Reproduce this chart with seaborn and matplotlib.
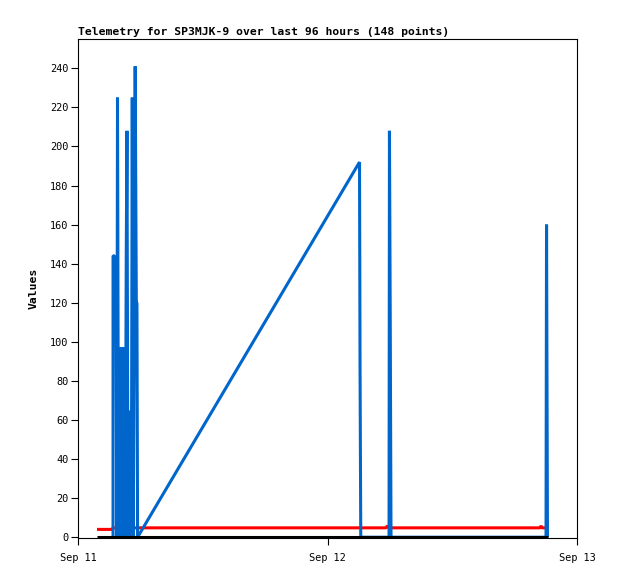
import pandas as pd
import matplotlib
matplotlib.use("Agg")
import matplotlib.pyplot as plt
import matplotlib.dates as mdates
import seaborn as sns

# hours after Sep 11 00:00 and values
start = pd.Timestamp("2023-09-11 00:00")

blue_hours = [3.37, 3.37, 3.51, 3.56, 3.66, 3.73, 3.80, 3.90, 3.99, 4.09,
              4.17, 4.23, 4.33, 4.41, 4.47, 4.55, 4.64, 4.71, 4.81, 4.91,
              5.05, 5.13, 5.22, 5.31, 5.41, 5.50, 5.61, 5.67, 5.73,
              27.08, 27.13, 27.20, 29.92, 29.96, 30.04, 30.11,
              45.02, 45.07, 45.16]
blue_values = [0, 144, 144, 113, 113, 0, 225, 0, 97, 23,
               97, 0, 97, 48, 97, 0, 143, 208, 0, 64,
               64, 0, 225, 0, 100, 241, 120, 120, 0,
               192, 88, 0, 0, 208, 104, 0,
               0, 160, 0]

red_hours = [1.83, 3.27, 3.37, 29.63, 29.77, 29.92, 44.44, 44.54, 44.63, 45.21]
red_values = [4.0, 4.0, 4.8, 4.8, 5.8, 4.8, 4.8, 5.8, 4.8, 4.8]

black_hours = [1.83, 45.21]
black_values = [0, 0]

yticks = list(range(0, 241, 20))

sns.set_style("ticks")
mono = "DejaVu Sans Mono"

fig = plt.figure(figsize=(6.18, 5.79), dpi=100)
ax = fig.add_axes([78 / 618, 1 - 538 / 579, 499 / 618, 499 / 579])


def to_df(hours, values):
    return pd.DataFrame({"time": start + pd.to_timedelta(hours, unit="h"),
                         "value": values})


line_kw = dict(linewidth=2.2, estimator=None, sort=False, ax=ax,
               solid_joinstyle="bevel", solid_capstyle="butt")
sns.lineplot(data=to_df(red_hours, red_values), x="time", y="value",
             color="#ff0000", **line_kw)
sns.lineplot(data=to_df(blue_hours, blue_values), x="time", y="value",
             color="#0066cc", **line_kw)
sns.lineplot(data=to_df(black_hours, black_values), x="time", y="value",
             color="black", **line_kw)

ax.set_xlim(start, start + pd.Timedelta(hours=48))
ax.set_ylim(-0.4, 255)
ax.set_yticks(yticks)
ax.xaxis.set_major_locator(mdates.DayLocator())
ax.xaxis.set_major_formatter(mdates.DateFormatter("%b %d"))

for s in ax.spines.values():
    s.set_color("black")
    s.set_linewidth(0.8)

ax.tick_params(axis="both", length=5, width=0.8, color="black",
               labelcolor="black", labelsize=7.4)
ax.tick_params(axis="x", pad=6)
ax.tick_params(axis="y", pad=2)
for lab in ax.get_xticklabels() + ax.get_yticklabels():
    lab.set_family(mono)

ax.set_xlabel("")
ax.set_ylabel("Values", family=mono, fontweight="bold", fontsize=8.2,
              labelpad=8, color="black")
ax.set_title("Telemetry for SP3MJK-9 over last 96 hours (148 points)",
             loc="left", family=mono, fontweight="bold", fontsize=8.2, pad=3,
             color="black")

plt.savefig("out.png", dpi=100)
